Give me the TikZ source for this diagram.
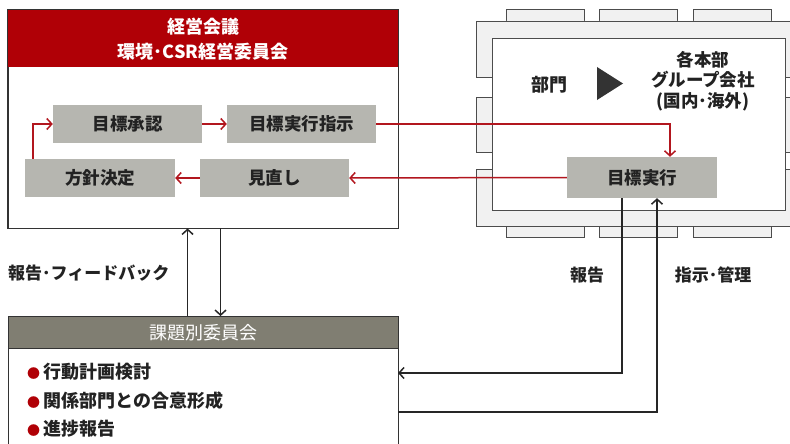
\documentclass[tikz,border=0pt]{standalone}
\usepackage{fontspec}
\setmainfont{Noto Sans CJK JP}
\usetikzlibrary{arrows.meta}
\definecolor{hdred}{RGB}{176,0,6}
\definecolor{lnred}{RGB}{178,22,30}
\definecolor{boxgray}{RGB}{182,182,176}
\definecolor{hdgray}{RGB}{128,126,114}
\definecolor{framegray}{RGB}{241,241,241}
\definecolor{txt}{RGB}{34,34,34}
\begin{document}
\begin{tikzpicture}[x=1pt,y=-1pt,
  gbox/.style={fill=boxgray,minimum width=149pt,minimum height=38pt,inner sep=0pt,font=\bfseries\fontsize{17.5}{17.5}\selectfont,text=txt},
  rarr/.style={draw=lnred,line width=1.5pt,-{Straight Barb[length=5pt,width=11pt]}},
  karr/.style={draw=black!85,line width=1.5pt,-{Straight Barb[length=5pt,width=11pt]}},
  lbl/.style={font=\bfseries\fontsize{17}{17}\selectfont,text=txt,inner sep=0pt},
  frm/.style={fill=framegray,draw=black!70,line width=0.8pt},
  panel/.style={draw=black!80,line width=0.9pt,inner sep=0pt}]
\useasboundingbox (0,0) rectangle (790,444);

% ---- table with chairs (right) ----
\foreach \x in {506,599,693}{
  \draw[frm] (\x,9) rectangle (\x+78,21);
  \draw[frm] (\x,226) rectangle (\x+78,237);
}
\draw[frm] (476,21) -- (801,21) -- (801,77) -- (785,77) -- (785,38) -- (492,38) -- (492,77) -- (476,77) -- cycle;
\draw[frm] (476,97) rectangle (492,152);
\draw[frm] (785,97) rectangle (801,152);
\draw[frm] (476,169) -- (492,169) -- (492,210) -- (785,210) -- (785,169) -- (801,169) -- (801,226) -- (476,226) -- cycle;
\node[draw=black!70,fill=white,line width=0.8pt,minimum width=293pt,minimum height=172pt,inner sep=0pt] (table) at (638.5,124) {};

\node[lbl,font=\bfseries\fontsize{18}{18}\selectfont] (bumon) at (549,85) {部門};
\fill[black!80] (597,67) -- (597,100) -- (623,83.5) -- cycle;
\node[lbl,align=center,font=\bfseries\fontsize{17.5}{20.5}\selectfont] (group) at (703,81) {各本部\\グループ会社\\(国内･海外)};

\node[gbox,minimum width=150pt,minimum height=41pt] (jikko) at (642,177.5) {目標実行};

% ---- management committee (top left) ----
\node[panel,minimum width=390pt,minimum height=218pt] (mgmt) at (203,119) {};
\node[fill=hdred,minimum width=390pt,minimum height=57pt,inner sep=0pt,align=center,text=white,
      font=\bfseries\fontsize{18}{25}\selectfont] (mhead) at (203,39) {経営会議\\環境･CSR経営委員会};
\draw[black!80,line width=0.9pt] (mgmt.north west) rectangle (mgmt.south east);

\node[gbox] (shonin) at (127.5,124) {目標承認};
\node[gbox] (shiji) at (301.5,124) {目標実行指示};
\node[gbox,minimum width=150pt] (hoshin) at (100,178) {方針決定};
\node[gbox] (minaoshi) at (274.5,178) {見直し};

% ---- topic committee (bottom left) ----
\node[panel,minimum width=390pt,minimum height=132pt] (kadai) at (203,382) {};
\node[fill=hdgray,draw=black!80,line width=0.9pt,minimum width=390pt,minimum height=32pt,inner sep=0pt,text=white,
      font=\fontsize{18}{18}\selectfont] (khead) at (203,332.5) {課題別委員会};
\node[anchor=north west,align=left,inner sep=0pt,text=txt,font=\bfseries\fontsize{18}{28.5}\selectfont] (items) at (27,363)
  {{\fontsize{13}{13}\selectfont\textcolor{hdred}{●}}\,行動計画検討\\
   {\fontsize{13}{13}\selectfont\textcolor{hdred}{●}}\,関係部門との合意形成\\
   {\fontsize{13}{13}\selectfont\textcolor{hdred}{●}}\,進捗報告};

% ---- labels ----
\node[lbl,anchor=west] (fb) at (8,273) {報告･フィードバック};
\node[lbl] (hokoku) at (587,275) {報告};
\node[lbl] (kanri) at (713,275) {指示･管理};

% ---- connectors ----
\draw[rarr] ([xshift=8pt]hoshin.north west) |- (shonin.west);
\draw[rarr] (shonin.east) -- (shiji.west);
\draw[rarr] (shiji.east) -| ([xshift=28pt]jikko.north);
\draw[rarr] (jikko.west) -- (minaoshi.east);
\draw[rarr] (minaoshi.west) -- (hoshin.east);

\draw[karr] ([xshift=180pt]khead.north west) -- ([xshift=180pt]mgmt.south west);
\draw[karr] ([xshift=213pt]mgmt.south west) -- ([xshift=213pt]khead.north west);

\coordinate (repin) at (398,373);
\coordinate (insout) at (398,412);
\draw[karr] ([xshift=-20pt]jikko.south) |- (repin);
\draw[karr] (insout) -| ([xshift=15pt]jikko.south);
\end{tikzpicture}
\end{document}
